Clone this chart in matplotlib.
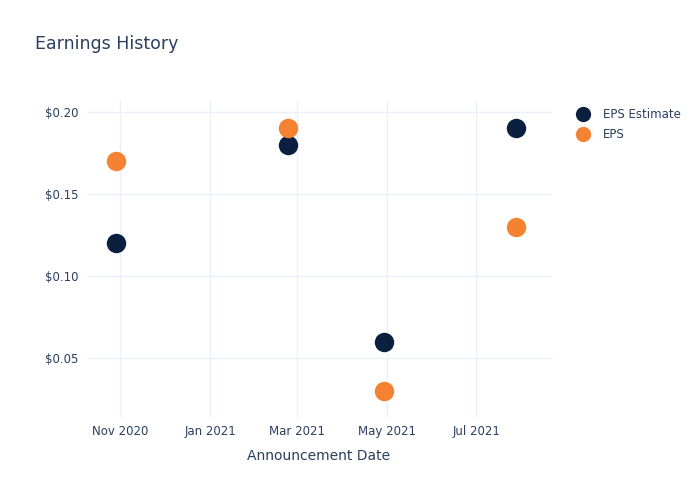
import matplotlib
matplotlib.use("Agg")
import matplotlib.pyplot as plt
import matplotlib.dates as mdates
from matplotlib.lines import Line2D
import numpy as np
import datetime as dt

# data
dates = [dt.date(2020, 10, 29), dt.date(2021, 2, 23), dt.date(2021, 4, 29), dt.date(2021, 7, 28)]
eps_estimate = [0.12, 0.18, 0.06, 0.19]
eps_actual = [0.17, 0.19, 0.03, 0.13]
xtick_dates = [dt.date(2020, 11, 1), dt.date(2021, 1, 1), dt.date(2021, 3, 1), dt.date(2021, 5, 1), dt.date(2021, 7, 1)]
yticks = [0.05, 0.10, 0.15, 0.20]

navy = '#0b1f3f'
orange = '#f58233'
txt = '#2a3f5f'
grid = '#ebf0f8'

fig = plt.figure(figsize=(7, 5), dpi=100)
ax = fig.add_axes([86.5/700, 1 - 417/500, 465/700, 317/500])

ax.plot(dates, eps_estimate, 'o', color=navy, markersize=14, markeredgewidth=0, zorder=3)
ax.plot(dates, eps_actual, 'o', color=orange, markersize=14, markeredgewidth=0, zorder=3)

ax.set_xlim(dt.date(2020, 10, 9), dt.date(2021, 8, 21))
ax.set_ylim(0.0143, 0.2071)

ax.set_xticks(xtick_dates)
ax.xaxis.set_major_formatter(mdates.DateFormatter('%b %Y'))
ax.set_yticks(yticks)
ax.set_yticklabels(['$%.2f' % v for v in yticks])

ax.grid(True, color=grid, linewidth=1)
ax.set_axisbelow(True)
for s in ax.spines.values():
    s.set_visible(False)
ax.tick_params(length=0, labelsize=8.5, labelcolor=txt, pad=6)

ax.set_xlabel('Announcement Date', fontsize=10, color=txt, labelpad=8)
fig.text(35/700, 1 - 44/500, 'Earnings History', fontsize=12.5, color=txt, va='center')

handles = [Line2D([], [], marker='o', linestyle='', color=navy, markersize=11, markeredgewidth=0),
           Line2D([], [], marker='o', linestyle='', color=orange, markersize=11, markeredgewidth=0)]
leg = fig.legend(handles, ['EPS Estimate', 'EPS'], loc='upper left', bbox_to_anchor=(566/700, 1 - 103/500),
                 frameon=False, fontsize=8.5, handletextpad=0.75, labelspacing=0.6, borderaxespad=0)
for t in leg.get_texts():
    t.set_color(txt)

fig.savefig('out.png', dpi=100)
